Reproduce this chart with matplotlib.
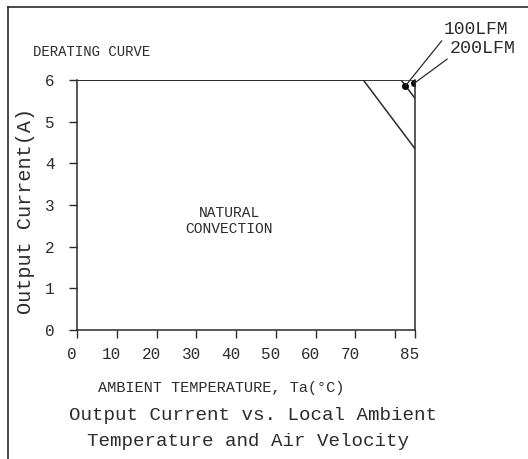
import matplotlib
matplotlib.use("Agg")
import matplotlib.pyplot as plt
from matplotlib.transforms import ScaledTranslation

# derating curves (temperature in C, current in A)
natural_t = [0, 72, 85]
natural_i = [6, 6, 4.35]
lfm100_t = [0, 81.5, 85]
lfm100_i = [6, 6, 5.56]
lfm200_t = [0, 85]
lfm200_i = [6, 6]

# callout points for the air flow labels
mark_100 = (82.6, 5.86)
mark_200 = (84.8, 5.92)

x_ticks = [0, 10, 20, 30, 40, 50, 60, 70, 80, 85]
x_labels = ["0", "10", "20", "30", "40", "50", "60", "70", "", "85"]
y_ticks = [0, 1, 2, 3, 4, 5, 6]

ink = "#2b2b2b"
plt.rcParams["font.family"] = ["Liberation Mono", "DejaVu Sans"]

W, H = 528, 459
fig = plt.figure(figsize=(W / 100, H / 100), dpi=100)
ax = fig.add_axes([77 / W, (H - 330) / H, (415 - 77) / W, (330 - 80) / H])

ax.plot(natural_t, natural_i, color=ink, lw=1.1)
ax.plot(lfm100_t, lfm100_i, color=ink, lw=1.1)
ax.plot(lfm200_t, lfm200_i, color=ink, lw=1.1)

ax.set_xlim(0, 85)
ax.set_ylim(0, 6)
ax.set_xticks(x_ticks)
ax.set_xticklabels(x_labels)
ax.set_yticks(y_ticks)
ax.tick_params(direction="out", length=6, width=1.0, color=ink,
               labelsize=11.5, labelcolor=ink)
ax.tick_params(axis="x", pad=6)
ax.tick_params(axis="y", pad=10)
# CAD-style labels sit a little left of their ticks
for lab in ax.get_xticklabels():
    lab.set_transform(lab.get_transform() + ScaledTranslation(-5 / 100, 0, fig.dpi_scale_trans))
ax.spines["top"].set_visible(False)
for s in ["left", "bottom", "right"]:
    ax.spines[s].set_color(ink)
    ax.spines[s].set_linewidth(1.1)

# dots + leader lines
ax.plot(*mark_100, "o", color="black", ms=4)
ax.plot(*mark_200, "o", color="black", ms=4)
ax.annotate("100LFM", xy=mark_100, xytext=(444, H - 38), textcoords="figure pixels",
            ha="left", va="bottom", fontsize=13, color=ink,
            arrowprops=dict(arrowstyle="-", color=ink, lw=0.9, relpos=(0, 0),
                            shrinkA=0, shrinkB=0))
ax.annotate("200LFM", xy=mark_200, xytext=(450, H - 57), textcoords="figure pixels",
            ha="left", va="bottom", fontsize=13.2, color=ink,
            arrowprops=dict(arrowstyle="-", color=ink, lw=0.9, relpos=(0, 0),
                            shrinkA=0, shrinkB=0))

ax.text(229 / W, 1 - 221 / H, "NATURAL\nCONVECTION", transform=fig.transFigure,
        ha="center", va="center", fontsize=10.5, color=ink, linespacing=1.15)

def ftext(x, y, s, **kw):
    fig.text(x / W, 1 - y / H, s, color=ink, va="center", **kw)

ftext(33, 52, "DERATING CURVE", ha="left", fontsize=10)
fig.text(26 / W, 1 - 211 / H, "Output Current(A)", rotation=90, ha="center",
         va="center", fontsize=14.5, color=ink)
ftext(221, 388, "AMBIENT TEMPERATURE, Ta(°C)", ha="center", fontsize=11)
ftext(253, 415, "Output Current vs. Local Ambient", ha="center", fontsize=13.8)
ftext(248, 442, "Temperature and Air Velocity", ha="center", fontsize=13.8)

# drawing frame (top and left edges)
fig.add_artist(plt.Line2D([8 / W, 1], [1 - 7 / H, 1 - 7 / H], color=ink, lw=1.2))
fig.add_artist(plt.Line2D([8 / W, 8 / W], [0, 1 - 7 / H], color=ink, lw=1.2))

fig.savefig("out.png", dpi=100)
